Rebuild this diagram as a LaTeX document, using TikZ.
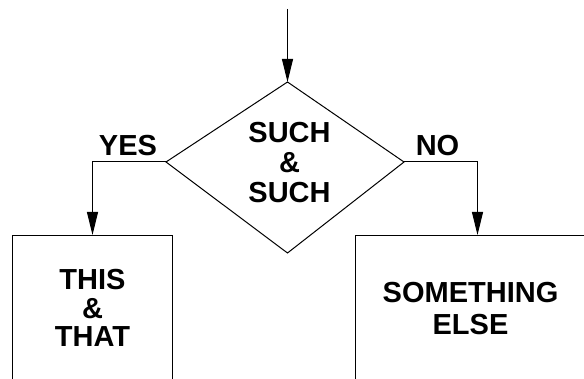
\documentclass[tikz,border=0pt]{standalone}
\usepackage{fontspec}
\setmainfont{Liberation Sans}
\usetikzlibrary{arrows.meta}
\newcommand{\smallamp}{{\fontsize{29}{29}\selectfont\&}\hspace*{7pt}}
\begin{document}
\begin{tikzpicture}[x=1pt,y=-1pt,
  conn/.style={draw, line width=1pt, -{Triangle[length=23pt,width=11pt]}},
  lbl/.style={font=\fontsize{29}{30}\selectfont\bfseries, inner sep=0pt, align=center},
  boxshape/.style={draw, line width=1pt, rectangle, inner sep=0pt, minimum height=190pt, anchor=north west}
]
\useasboundingbox (0,0) rectangle (584,379);
\clip (0,0) rectangle (584,379);
% decision diamond
\coordinate (start) at (287.5,9);
\coordinate (dT) at (287.5,82);
\coordinate (dL) at (166,162);
\coordinate (dR) at (404,162);
\coordinate (dB) at (287.5,253);
\draw[line width=1pt, line join=miter] (dT) -- (dR) -- (dB) -- (dL) -- cycle;
\node[lbl, anchor=north] (such) at (289.5,122.5) {SUCH\\\smallamp\\SUCH};
% boxes
\node[boxshape, minimum width=160pt] (yesbox) at (12,235) {};
\node[boxshape, minimum width=245pt] (nobox) at (354.5,235) {};
\node[lbl, anchor=north, font=\fontsize{29}{28.5}\selectfont\bfseries] (this) at (92.5,269.5) {THIS\\\smallamp\\THAT};
\node[lbl, anchor=north, font=\fontsize{29}{32}\selectfont\bfseries] (else) at (470.5,282.5) {SOMETHING\\ELSE};
% branch labels
\node[lbl, anchor=base] (yes) at (128,156) {YES};
\node[lbl, anchor=base] (no) at (437.5,156) {NO};
% connectors
\draw[conn] (start) -- (dT);
\draw[conn] (dL) -| (yesbox.north);
\draw[conn] (dR) -| (nobox.north);
\end{tikzpicture}
\end{document}
